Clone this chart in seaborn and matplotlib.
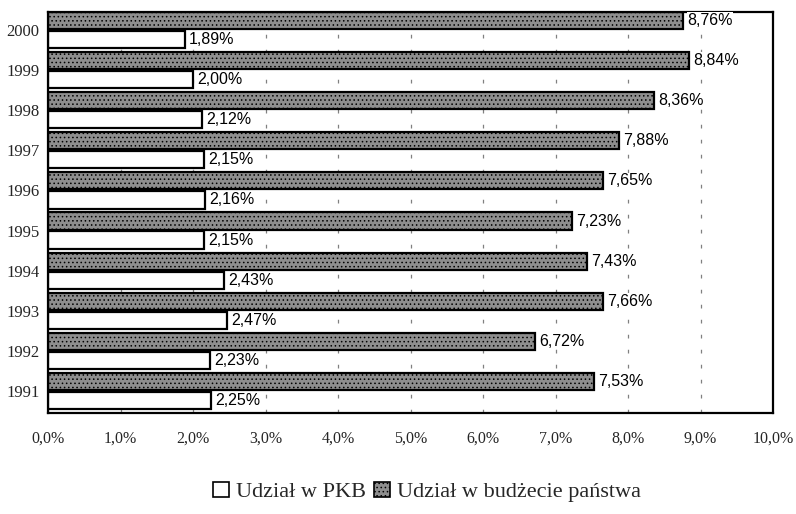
import matplotlib
matplotlib.use("Agg")
import matplotlib.pyplot as plt
import matplotlib.patches as mpatches
import seaborn as sns
import pandas as pd

# Data: share of spending in GDP and in the state budget, 1991-2000 (%)
years = ["2000", "1999", "1998", "1997", "1996", "1995", "1994", "1993", "1992", "1991"]
budget_share = [8.76, 8.84, 8.36, 7.88, 7.65, 7.23, 7.43, 7.66, 6.72, 7.53]
gdp_share = [1.89, 2.00, 2.12, 2.15, 2.16, 2.15, 2.43, 2.47, 2.23, 2.25]
series_names = ["Udział w budżecie państwa", "Udział w PKB"]
x_ticks = [0, 1, 2, 3, 4, 5, 6, 7, 8, 9, 10]

df = pd.DataFrame({
    "rok": years * 2,
    "seria": [series_names[0]] * len(years) + [series_names[1]] * len(years),
    "wartosc": budget_share + gdp_share,
})

sns.set_theme(style="white")
plt.rcParams["font.family"] = ["Liberation Serif", "DejaVu Serif"]
plt.rcParams["hatch.color"] = "#5e5e5e"
plt.rcParams["hatch.linewidth"] = 0.6

fig = plt.figure(figsize=(7.96, 5.14), dpi=100)
ax = fig.add_axes([48 / 796, 1 - 413 / 514, (773 - 48) / 796, (413 - 12) / 514])

gray = "#8e8e8e"
palette = {series_names[0]: gray, series_names[1]: "white"}
sns.barplot(data=df, y="rok", x="wartosc", hue="seria", order=years,
            hue_order=series_names, palette=palette, orient="h",
            width=0.95, gap=0.1, edgecolor="black", linewidth=1.6,
            saturation=1, legend=False, ax=ax)

# grainy texture on the budget bars
n = len(years)
for i, p in enumerate(ax.patches):
    if i < n:
        p.set_hatch("....")

# value labels
for container in ax.containers:
    labels = [f"{v:.2f}%".replace(".", ",") for v in container.datavalues]
    ax.bar_label(container, labels=labels, padding=3, fontsize=11.5,
                 family="Liberation Sans", color="black",
                 bbox=dict(facecolor="white", edgecolor="none", pad=0.5))

ax.set_xlim(0, 10)
ax.set_ylim(9.55, -0.45)
ax.set_xticks(x_ticks)
ax.set_xticklabels([f"{t},0%" for t in x_ticks], fontsize=11.5)
ax.tick_params(axis="x", pad=13, length=0)
ax.tick_params(axis="y", pad=6, length=0, labelsize=12)
ax.set_xlabel("")
ax.set_ylabel("")

ax.set_axisbelow(True)
ax.grid(axis="x", color="#808080", linestyle=(0, (3, 9)), linewidth=0.9)
ax.grid(axis="y", visible=False)
for s in ax.spines.values():
    s.set_visible(True)
    s.set_color("black")
    s.set_linewidth(1.6)

handles = [
    mpatches.Patch(facecolor="white", edgecolor="black", linewidth=1.2, label=series_names[1]),
    mpatches.Patch(facecolor=gray, edgecolor="black", linewidth=1.2, hatch="....", label=series_names[0]),
]
fig.legend(handles=handles, loc="center", bbox_to_anchor=(427 / 796, 1 - 492 / 514),
           ncol=2, frameon=False, fontsize=16, handlelength=0.7, handleheight=0.7,
           handletextpad=0.3, columnspacing=0.4)

fig.savefig("out.png", dpi=100)
